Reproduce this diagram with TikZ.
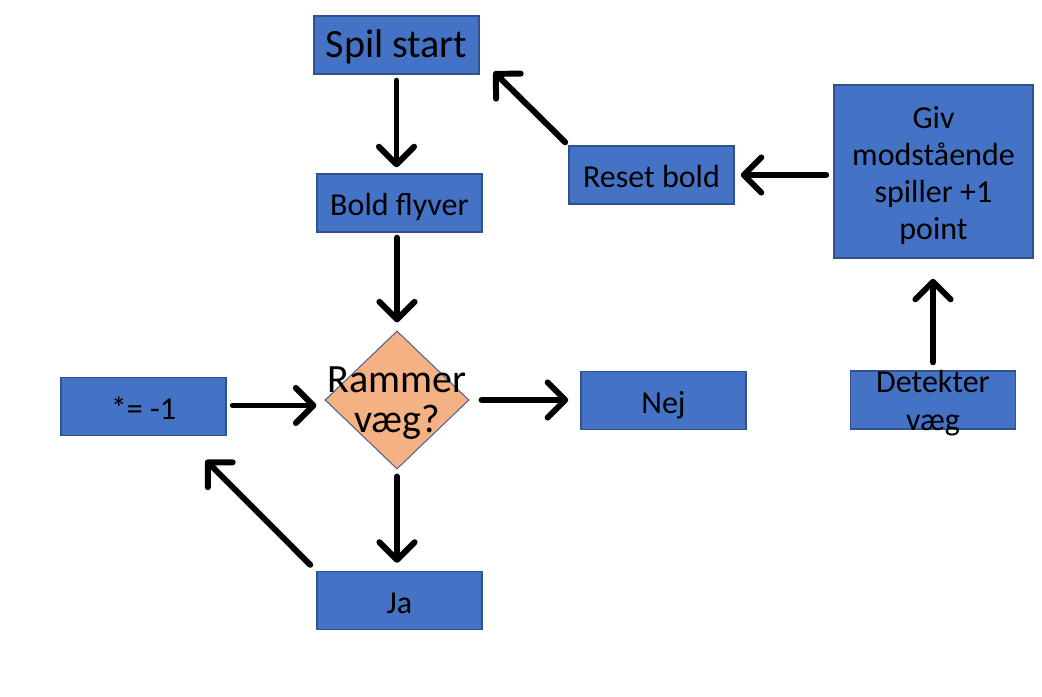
\documentclass[tikz,border=0pt]{standalone}
\usepackage{fontspec}
\setmainfont{Carlito}
\usetikzlibrary{shapes.geometric,arrows.meta}
\definecolor{boxblue}{HTML}{4472C4}
\definecolor{boxline}{HTML}{2F528F}
\definecolor{salmon}{HTML}{F4B183}

\begin{document}
\begin{tikzpicture}[
		x=0.01cm, y=-0.01cm,
		every node/.style = {align=center, inner sep=0pt,
			font=\fontsize{9.1pt}{10.5pt}\selectfont},
		box/.style = {shape=rectangle, draw=boxline, fill=boxblue,
			line width=0.4pt, minimum width=1.65cm, minimum height=0.58cm},
		oneline/.style = {text height=1.8ex, text depth=0.3ex},
		big/.style = {font=\fontsize{11.4pt}{12pt}\selectfont},
		decision/.style = {shape=diamond, draw=boxline!60!gray, fill=salmon,
			line width=0.3pt, minimum width=1.44cm, minimum height=1.38cm},
		flow/.style = {line width=1.7pt, line cap=round,
			-{Straight Barb[length=5pt,width=10pt,round]}},
		]
		\useasboundingbox (0,0) rectangle (1042,697);
		
		% left column
		\node[box, big, oneline] (start) at (396.5,45) {Spil start};
		\node[box, oneline] (bold) at (399.5,203) {Bold flyver};
		\node[decision] (rammer) at (397,400) {};
		\node[big, font=\fontsize{11.4pt}{11.2pt}\selectfont] (rammerText) at ([shift={(0,3)}]rammer.center) {Rammer\\væg?};
		\node[box, oneline] (minus) at (143.5,406.5) {*= -1};
		\node[box, oneline] (nej) at (663.5,400.5) {Nej};
		\node[box, oneline] (ja) at (399.5,600.5) {Ja};
		
		% right side
		\node[box, oneline] (reset) at (651.5,175) {Reset bold};
		\node[box, minimum width=1.99cm, minimum height=1.73cm] (giv) at (933.5,171.5) {};
		\node (givText) at ([shift={(0,4)}]giv.center) {Giv\\modstående\\spiller +1\\point};
		\node[box] (detekter) at (933,400) {};
		\node[font=\fontsize{9.1pt}{10.8pt}\selectfont] (detekterText) at ([shift={(0,3)}]detekter.center) {Detekter\\væg};
		
		% arrows
		\draw[flow] ([shift={(0,6)}]start.south) -- ([shift={(0,-6)}]start.south |- bold.north);
		\draw[flow] ([shift={(0,5)}]rammer.north |- bold.south) -- ([shift={(0,-8)}]rammer.north);
		\draw[flow] ([shift={(12,0)}]rammer.east) -- ([shift={(-12,0)}]nej.west |- rammer.east);
		\draw[flow] ([shift={(0,7)}]rammer.south) -- ([shift={(0,-8)}]rammer.south |- ja.north);
		\draw[flow] ([shift={(6,-1)}]minus.east) -- ([shift={(-8,-1)}]rammer.west |- minus.east);
		\draw[flow] ([shift={(-6,-6)}]ja.north west) -- ([shift={(-21,24)}]minus.south east);
		\draw[flow] ([shift={(0,-8)}]detekter.north) -- ([shift={(0,20)}]detekter.north |- giv.south);
		\draw[flow] ([shift={(-7,0)}]giv.west |- reset.east) -- ([shift={(6,0)}]reset.east);
		\draw[flow] ([shift={(-3,-3)}]reset.north west) -- ([shift={(14,-3)}]start.south east);
		\end{tikzpicture}
\end{document}
